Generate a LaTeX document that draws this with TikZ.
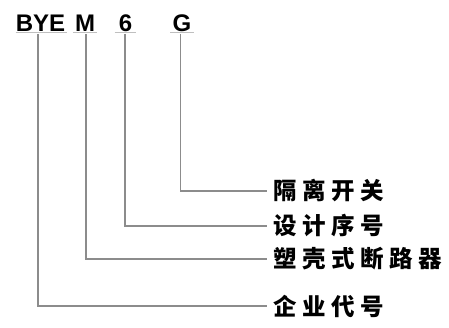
\documentclass[tikz,border=0pt]{standalone}
\usepackage{fontspec}
\setsansfont{Liberation Sans}
\newfontfamily\cjk[LetterSpace=24]{Noto Sans CJK SC}

\begin{document}
\begin{tikzpicture}[x=1pt,y=-1pt]
	\useasboundingbox (0,0) rectangle (449,328);
	\tikzset{code/.style={font=\sffamily\bfseries\fontsize{24}{24}\selectfont,inner sep=0pt},
		lbl/.style={anchor=west,font=\cjk\bfseries\fontsize{23.5}{24}\selectfont,inner xsep=6pt,inner ysep=0pt},
		lead/.style={draw=black!45,line width=1.1pt},
		uline/.style={draw=black!25,line width=0.8pt}}
	% model code
	\node[code] (bye) at (40.5,23) {BYE};
	\node[code] (m) at (85,23) {M};
	\node[code] (six) at (125.5,23) {6};
	\node[code] (g) at (182,23) {G};
	\draw[uline] ([yshift=-1pt]bye.south west) -- ([xshift=2pt,yshift=-1pt]bye.south east);
	\draw[uline] ([xshift=-2pt,yshift=-1pt]m.south west) -- ([xshift=2pt,yshift=-1pt]m.south east);
	\draw[uline] ([xshift=-4pt,yshift=-1pt]six.south west) -- ([xshift=4pt,yshift=-1pt]six.south east);
	\draw[uline] ([xshift=-2pt,yshift=-1pt]g.south west) -- ([xshift=2pt,yshift=-1pt]g.south east);
	% start of each lead
	\coordinate (tbye) at (38,34);
	\coordinate (tm) at (86,34);
	\coordinate (tsix) at (125,34);
	\coordinate (tg) at (180.5,34);
	% meanings
	\node[lbl] (lg) at (267,191) {隔离开关};
	\node[lbl] (lsix) at (267,226) {设计序号};
	\node[lbl] (lm) at (267,259) {塑壳式断路器};
	\node[lbl] (lbye) at (267,306) {企业代号};
	\draw[lead] (tg) |- (lg.west);
	\draw[lead] (tsix) |- (lsix.west);
	\draw[lead] (tm) |- (lm.west);
	\draw[lead] (tbye) |- (lbye.west);
\end{tikzpicture}
\end{document}
